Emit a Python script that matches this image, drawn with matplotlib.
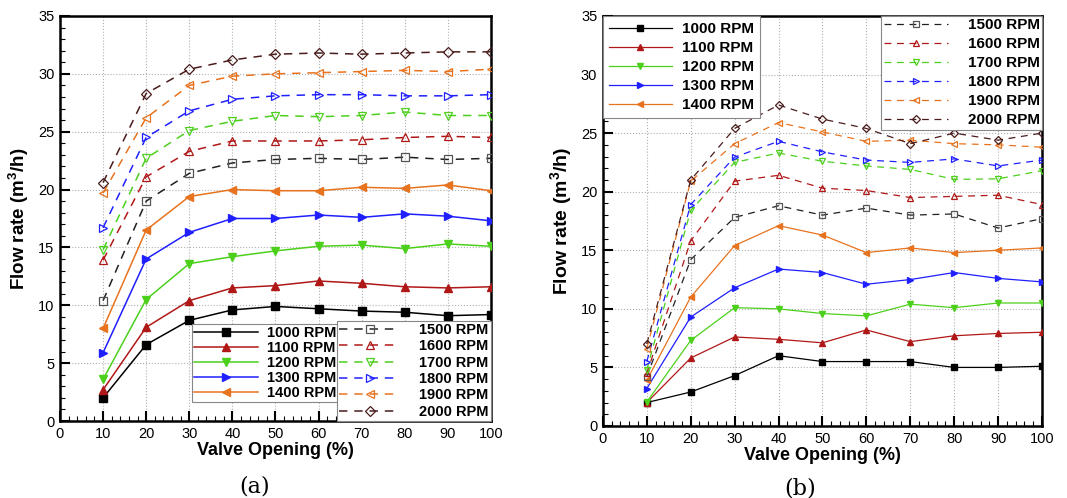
import numpy as np
import matplotlib
matplotlib.use("Agg")
import matplotlib.pyplot as plt
from matplotlib.ticker import MultipleLocator

plt.rcParams["font.family"] = ["Liberation Sans", "DejaVu Sans"]
plt.rcParams["mathtext.fontset"] = "custom"
plt.rcParams["mathtext.bf"] = "Liberation Sans:bold"
plt.rcParams["mathtext.rm"] = "Liberation Sans"

# Valve opening (%)
opening = [10, 20, 30, 40, 50, 60, 70, 80, 90, 100]
rpm_labels = ["1000 RPM", "1100 RPM", "1200 RPM", "1300 RPM", "1400 RPM",
              "1500 RPM", "1600 RPM", "1700 RPM", "1800 RPM", "1900 RPM", "2000 RPM"]

# (a) flow rate (m3/h)
flow_a_1000 = [2.0, 6.6, 8.7, 9.6, 9.9, 9.7, 9.5, 9.4, 9.1, 9.2]
flow_a_1100 = [2.7, 8.1, 10.4, 11.5, 11.7, 12.1, 11.9, 11.6, 11.5, 11.6]
flow_a_1200 = [3.6, 10.5, 13.6, 14.2, 14.7, 15.1, 15.2, 14.9, 15.3, 15.1]
flow_a_1300 = [5.9, 14.0, 16.3, 17.5, 17.5, 17.8, 17.6, 17.9, 17.7, 17.3]
flow_a_1400 = [8.0, 16.5, 19.4, 20.0, 19.9, 19.9, 20.2, 20.1, 20.4, 19.9]
flow_a_1500 = [10.4, 19.0, 21.4, 22.3, 22.6, 22.7, 22.6, 22.8, 22.6, 22.7]
flow_a_1600 = [13.9, 21.1, 23.3, 24.2, 24.2, 24.2, 24.3, 24.5, 24.6, 24.5]
flow_a_1700 = [14.8, 22.7, 25.1, 25.9, 26.4, 26.3, 26.4, 26.7, 26.4, 26.4]
flow_a_1800 = [16.7, 24.5, 26.8, 27.8, 28.1, 28.2, 28.2, 28.1, 28.1, 28.2]
flow_a_1900 = [19.7, 26.2, 29.0, 29.8, 30.0, 30.1, 30.2, 30.3, 30.2, 30.4]
flow_a_2000 = [20.6, 28.3, 30.4, 31.2, 31.7, 31.8, 31.7, 31.8, 31.9, 31.9]

# (b) flow rate (m3/h)
flow_b_1000 = [2.0, 2.9, 4.3, 6.0, 5.5, 5.5, 5.5, 5.0, 5.0, 5.1]
flow_b_1100 = [2.0, 5.8, 7.6, 7.4, 7.1, 8.2, 7.2, 7.7, 7.9, 8.0]
flow_b_1200 = [2.05, 7.3, 10.1, 10.0, 9.6, 9.4, 10.4, 10.1, 10.5, 10.5]
flow_b_1300 = [3.2, 9.3, 11.8, 13.4, 13.1, 12.1, 12.5, 13.1, 12.6, 12.3]
flow_b_1400 = [3.9, 11.0, 15.4, 17.1, 16.3, 14.8, 15.2, 14.8, 15.0, 15.2]
flow_b_1500 = [4.2, 14.2, 17.8, 18.8, 18.0, 18.6, 18.0, 18.1, 16.9, 17.7]
flow_b_1600 = [4.5, 15.8, 20.9, 21.4, 20.3, 20.1, 19.5, 19.6, 19.7, 18.9]
flow_b_1700 = [4.8, 18.4, 22.5, 23.3, 22.6, 22.2, 21.9, 21.05, 21.1, 21.8]
flow_b_1800 = [5.5, 18.9, 22.95, 24.3, 23.4, 22.7, 22.5, 22.8, 22.2, 22.7]
flow_b_1900 = [6.6, 20.9, 24.1, 25.9, 25.1, 24.3, 24.4, 24.1, 24.0, 23.8]
flow_b_2000 = [7.0, 21.0, 25.4, 27.4, 26.2, 25.4, 24.1, 25.0, 24.4, 25.0]

flows_a = [flow_a_1000, flow_a_1100, flow_a_1200, flow_a_1300, flow_a_1400, flow_a_1500,
           flow_a_1600, flow_a_1700, flow_a_1800, flow_a_1900, flow_a_2000]
flows_b = [flow_b_1000, flow_b_1100, flow_b_1200, flow_b_1300, flow_b_1400, flow_b_1500,
           flow_b_1600, flow_b_1700, flow_b_1800, flow_b_1900, flow_b_2000]

colors = ["#000000", "#b01818", "#4cd01c", "#1f1fff", "#e8731f",
          "#202020", "#b01818", "#4cd01c", "#1f1fff", "#e8731f", "#4a1c1c"]
markers = ["s", "^", "v", ">", "<", "s", "^", "v", ">", "<", "D"]


def draw_panel(ax, flows, msize, lw, fs, solid_opts, dash_opts, ylab_fs):
    solid_h, dash_h = [], []
    for i, (vals, lab) in enumerate(zip(flows, rpm_labels)):
        if i < 5:
            h, = ax.plot(opening, vals, color=colors[i], lw=lw, marker=markers[i],
                         ms=msize, mfc=colors[i], mec=colors[i], label=lab, zorder=3)
            solid_h.append(h)
        else:
            mec = "#555555" if i == 5 else colors[i]
            h, = ax.plot(opening, vals, color=colors[i], lw=lw, dashes=(5.5, 4.5),
                         marker=markers[i], ms=msize if markers[i] != "D" else msize - 0.5,
                         mfc="none", mec=mec, mew=0.9, label=lab, zorder=3)
            dash_h.append(h)

    ax.set_xlim(0, 100)
    ax.set_ylim(0, 35)
    ax.xaxis.set_major_locator(MultipleLocator(10))
    ax.xaxis.set_minor_locator(MultipleLocator(2))
    ax.yaxis.set_major_locator(MultipleLocator(5))
    ax.yaxis.set_minor_locator(MultipleLocator(1))
    ax.tick_params(which="major", direction="in", length=7, width=1.5, labelsize=10.5, pad=4)
    ax.tick_params(which="minor", direction="in", length=3.5, width=0.8)
    ax.grid(True, which="major", ls=":", lw=0.8, color="#b0b0b0")
    for s in ax.spines.values():
        s.set_linewidth(1.8)

    ax.set_xlabel("Valve Opening (%)", fontsize=13, fontweight="bold", labelpad=1)
    ax.set_ylabel(r"Flow rate (m$\mathbf{^3}$/h)", fontsize=ylab_fs, fontweight="bold", labelpad=5)

    legs = []
    for handles, opts in ((solid_h, solid_opts), (dash_h, dash_opts)):
        leg = ax.legend(handles=handles, loc=opts["loc"], bbox_to_anchor=opts["anchor"],
                        numpoints=1, handlelength=opts["hl"], handletextpad=opts["htp"],
                        labelspacing=opts["ls"], borderpad=opts["bp"], borderaxespad=0,
                        fancybox=False, framealpha=1, edgecolor="#888888",
                        prop={"weight": "bold", "size": fs})
        leg.get_frame().set_linewidth(0.8)
        legs.append(leg)
    ax.add_artist(legs[0])


fig = plt.figure(figsize=(10.67, 4.98), dpi=100)
ax_a = fig.add_axes([0.0562, 0.1546, 0.4039, 0.8133])
ax_b = fig.add_axes([0.565, 0.1446, 0.4116, 0.8233])

draw_panel(ax_a, flows_a, 6, 1.1, 10.5,
           {"loc": "upper left", "anchor": (0.306, 0.2395), "hl": 4.4, "htp": 0.6,
            "ls": 0.07, "bp": 0.15},
           {"loc": "lower right", "anchor": (1.0, 0.0), "hl": 4.2, "htp": 1.3,
            "ls": 0.16, "bp": 0.15},
           13.5)
draw_panel(ax_b, flows_b, 5, 0.9, 11,
           {"loc": "upper left", "anchor": (0.0, 1.0), "hl": 4.1, "htp": 0.7,
            "ls": 0.33, "bp": 0.4},
           {"loc": "upper right", "anchor": (1.0, 1.0), "hl": 4.2, "htp": 1.3,
            "ls": 0.33, "bp": 0.15},
           14)

fig.text(0.239, 0.012, "(a)", fontsize=16, family="DejaVu Serif", ha="center")
fig.text(0.75, 0.008, "(b)", fontsize=16, family="DejaVu Serif", ha="center")

plt.savefig("out.png", dpi=100)
